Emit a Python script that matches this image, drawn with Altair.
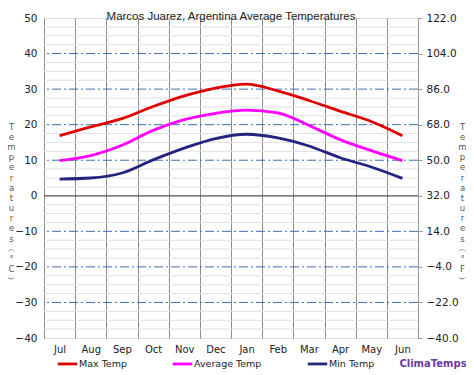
import altair as alt
import pandas as pd

months = ["Jul", "Aug", "Sep", "Oct", "Nov", "Dec", "Jan", "Feb", "Mar", "Apr", "May", "Jun"]
max_temp = [16.9, 19.4, 21.7, 25.1, 28.1, 30.3, 31.4, 29.5, 26.8, 23.8, 20.9, 16.9]
avg_temp = [9.9, 11.3, 14.2, 18.4, 21.4, 23.2, 24.1, 23.3, 19.8, 15.8, 12.7, 9.9]
min_temp = [4.7, 5.0, 6.4, 10.1, 13.4, 16.1, 17.3, 16.3, 14.0, 10.7, 8.1, 4.9]
series_names = ["Max Temp", "Average Temp", "Min Temp"]
series_colors = ["#e00000", "#ff00ff", "#24247f"]
series_widths = [2.8, 2.8, 2.0]

c_labels = [-40, -30, -20, -10, 0, 10, 20, 30, 40, 50]
c_minor = [-37.5, -35, -32.5, -27.5, -25, -22.5, -17.5, -15, -12.5, -7.5, -5, -2.5,
           2.5, 5, 7.5, 12.5, 15, 17.5, 22.5, 25, 27.5, 32.5, 35, 37.5, 42.5, 45, 47.5]
c_major = [-30, -20, -10, 10, 20, 30, 40]
f_ticks = [-40.0, -22.0, -4.0, 14.0, 32.0, 50.0, 68.0, 86.0, 104.0, 122.0]

rows = []
for name, vals in zip(series_names, [max_temp, avg_temp, min_temp]):
    for m, v in zip(months, vals):
        rows.append({"month": m, "temp": v, "series": name})
df = pd.DataFrame(rows)

FONT = "DejaVu Sans"
left_title = ["T", "e", "m", "p", "e", "r", "a", "t", "u", "r", "e", "s", "︵", "°", "C", "︶"]
right_title = ["T", "e", "m", "p", "e", "r", "a", "t", "u", "r", "e", "s", "︵", "°", "F", "︶"]

c_scale = alt.Scale(domain=[-40, 50], nice=False, zero=False)
c_axis = alt.Axis(orient="left", values=c_labels, grid=False,
                  ticks=False, domain=False, labelOverlap=False,
                  labelFont=FONT, labelFontSize=10.5, labelColor="#222", labelPadding=7,
                  title=left_title, titleAngle=0, titleX=-33, titleY=104, titleBaseline="top",
                  titleAlign="center", titleFont=FONT, titleFontSize=8.5, titleFontWeight="normal",
                  titleColor="#555", titleLineHeight=10.2)

x_enc = alt.X("month:N", sort=months, scale=alt.Scale(type="band", paddingInner=0, paddingOuter=0),
              axis=alt.Axis(title=None, tickBand="extent", grid=True, gridColor="#8c8c8c", gridWidth=1,
                            ticks=False, domain=False, labelAngle=0, labelFont=FONT, labelFontSize=10,
                            labelColor="#222", labelPadding=6))

minors = alt.Chart(pd.DataFrame({"v": c_minor})).mark_rule(color="#e0e0e0", strokeWidth=1).encode(
    y=alt.Y("v:Q", scale=c_scale, axis=c_axis))

majors = alt.Chart(pd.DataFrame({"v": c_major})).mark_rule(
    color="#3f6fae", strokeWidth=1, strokeDash=[9, 3, 2, 3]
).encode(y=alt.Y("v:Q", scale=c_scale, axis=c_axis))

zero = alt.Chart(pd.DataFrame({"v": [0]})).mark_rule(color="#555", strokeWidth=1.2).encode(
    y=alt.Y("v:Q", scale=c_scale, axis=c_axis))

lines = alt.Chart(df).mark_line(interpolate="monotone").encode(
    x=x_enc,
    y=alt.Y("temp:Q", scale=c_scale, axis=c_axis),
    color=alt.Color("series:N", scale=alt.Scale(domain=series_names, range=series_colors),
                    legend=alt.Legend(title=None, orient="none", legendX=12, legendY=334,
                                      direction="horizontal", symbolType="stroke", symbolSize=380,
                                      symbolStrokeWidth=3, labelFont=FONT, labelFontSize=9.5,
                                      labelColor="#222", columnPadding=40, labelOffset=0)),
    strokeWidth=alt.StrokeWidth("series:N", scale=alt.Scale(domain=series_names, range=series_widths),
                                legend=None),
)

brand = alt.Chart(pd.DataFrame({"t": ["ClimaTemps"]})).mark_text(
    font=FONT, fontSize=10, fontWeight="bold", color="#6b3aa3", align="center", baseline="middle"
).encode(text="t:N", x=alt.value(389), y=alt.value(346))

left = alt.layer(minors, majors, zero, lines, brand)

right = alt.Chart(pd.DataFrame({"f": f_ticks})).mark_point(opacity=0).encode(
    y=alt.Y("f:Q", scale=alt.Scale(domain=[-40, 122], nice=False, zero=False),
            axis=alt.Axis(orient="right", values=f_ticks, format=".1f", grid=False, ticks=True, tickSize=4,
                          tickColor="#999", domain=True, domainColor="#999", labelOverlap=False,
                          labelFont=FONT, labelFontSize=10.5, labelColor="#222", labelPadding=4,
                          title=right_title, titleAngle=0, titleX=44, titleY=104, titleBaseline="top",
                          titleAlign="center", titleFont=FONT, titleFontSize=8.5, titleFontWeight="normal",
                          titleColor="#555", titleLineHeight=10.2))
)

chart = alt.layer(left, right).resolve_scale(y="independent").properties(
    width=374, height=320,
    title=alt.Title("Marcos Juarez, Argentina Average Temperatures", font="Liberation Sans",
                    fontSize=11.5, fontWeight="normal", color="#222", offset=0, dy=9, anchor="middle"),
    autosize=alt.AutoSizeParams(type="none"),
    padding={"left": 36, "top": 10, "right": 48, "bottom": 38},
).configure_view(stroke="#c5e8c0", strokeWidth=1).configure(background="white")

chart.save("out.html", embed_options={"renderer": "svg", "actions": False})
